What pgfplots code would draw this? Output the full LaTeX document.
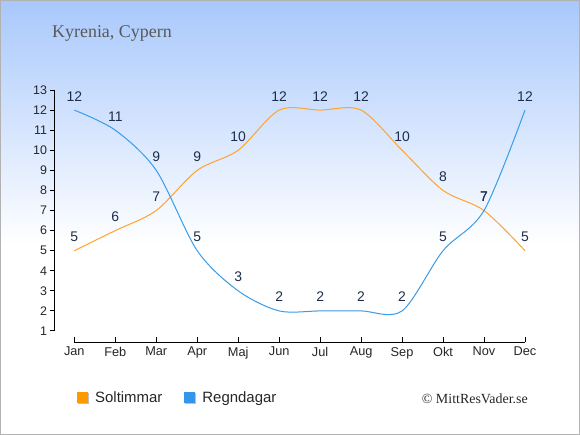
\documentclass[border=0pt]{standalone}
\usepackage{pgfplots}
\pgfplotsset{compat=1.18}
\usepackage{fontspec}
\setmainfont{Liberation Sans}
\newfontfamily\seriffont{Liberation Serif}
\definecolor{sunc}{RGB}{255,163,45}
\definecolor{rainc}{RGB}{58,155,232}
\definecolor{sunleg}{RGB}{255,153,0}
\definecolor{rainleg}{RGB}{51,150,235}
\definecolor{lblc}{RGB}{30,45,75}
\definecolor{topbg}{RGB}{168,200,252}
\begin{document}
\begin{tikzpicture}
\useasboundingbox (0,0) rectangle (580bp,435bp);
\fill[white] (0,0) rectangle (580bp,435bp);
\shade[top color=topbg, bottom color=white] (0,190bp) rectangle (580bp,435bp);
\draw[black!30, line width=1bp] (0.5bp,0.5bp) rectangle (579.5bp,434.5bp);
\node[anchor=base west, font=\seriffont\fontsize{18}{20}\selectfont, text=black!65, inner sep=0] at (52bp,397.7bp) {Kyrenia, Cypern};
\node[anchor=base east, font=\seriffont\fontsize{14}{16}\selectfont, text=black!85, inner sep=0] at (528bp,32bp) {© MittResVader.se};
\begin{axis}[
  at={(54.3bp,93bp)}, anchor=south west,
  scale only axis, width=470.7bp, height=251.97bp,
  xmin=-0.488, xmax=11, ymin=0.452, ymax=13,
  clip=false,
  axis line style={draw=none},
  xtick={0,...,11},
  xticklabels={Jan,Feb,Mar,Apr,Maj,Jun,Jul,Aug,Sep,Okt,Nov,Dec},
  ytick={1,...,13},
  xtick pos=bottom, ytick pos=left,
  tick align=outside,
  major tick length=4.5bp,
  tick style={black, line width=1bp},
  major x tick style={yshift=4.5bp},
  /pgf/number format/assume math mode=true,
  xticklabel style={font=\fontsize{12.8}{14}\selectfont, text=black!85, inner sep=0, anchor=north, yshift=-0.5bp},
  yticklabel style={font=\fontsize{12.5}{14}\selectfont, text=black!85, inner sep=0, anchor=east, xshift=-2.5bp},
  nodes near coords,
  every node near coord/.append style={font=\fontsize{14}{16}\selectfont, text=lblc, inner sep=0, anchor=south, yshift=8.5bp},
  legend columns=2,
  legend style={at={(0.0482,-0.2222)}, anchor=west, draw=none, fill=none, inner sep=0pt,
    font=\fontsize{15}{17}\selectfont, text=black!85,
    /tikz/every odd column/.append style={column sep=4bp},
    /tikz/every even column/.append style={column sep=20bp}},
]
\addplot[sunc, line width=1bp, smooth,
  legend image code/.code={
    \fill[black!25] (1bp,-6bp) rectangle (11bp,4bp);
    \fill[sunleg] (0,-5bp) rectangle (10bp,5bp);}] coordinates {
 (0,5) (1,6) (2,7) (3,9) (4,10) (5,12) (6,12) (7,12) (8,10) (9,8) (10,7) (11,5)};
\addlegendentry{Soltimmar}
\addplot[rainc, line width=1bp, smooth,
  legend image code/.code={
    \fill[black!25] (1bp,-6bp) rectangle (11bp,4bp);
    \fill[rainleg] (0,-5bp) rectangle (10bp,5bp);}] coordinates {
 (0,12) (1,11) (2,9) (3,5) (4,3) (5,2) (6,2) (7,2) (8,2) (9,5) (10,7) (11,12)};
\addlegendentry{Regndagar}
\draw[black, line width=1bp] (axis cs:-0.488,1) -- (axis cs:-0.488,13);
\draw[black, line width=1bp] (axis cs:0,0.452) -- (axis cs:11,0.452);
\end{axis}
\end{tikzpicture}
\end{document}
